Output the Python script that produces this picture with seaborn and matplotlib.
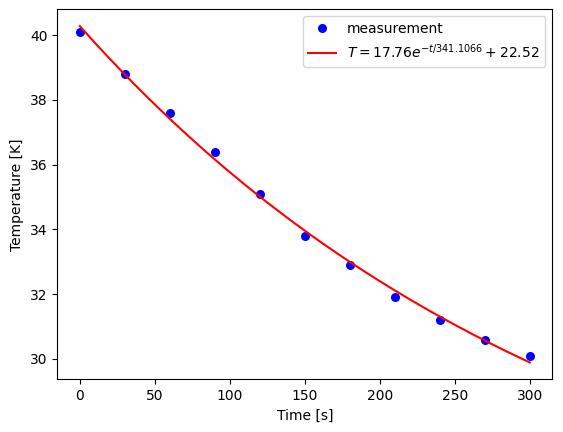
import numpy as np
import pandas as pd
import matplotlib
matplotlib.use("Agg")
import matplotlib.pyplot as plt
import seaborn as sns

time_s = [0, 30, 60, 90, 120, 150, 180, 210, 240, 270, 300]
temperature_k = [40.1, 38.8, 37.6, 36.4, 35.1, 33.8, 32.9, 31.9, 31.2, 30.6, 30.1]

# Fitted model parameters shown in the legend
fit_amp = 17.76
fit_tau = 341.1066
fit_offset = 22.52

meas = pd.DataFrame({"t": time_s, "T": temperature_k})
t_fit = np.linspace(min(time_s), max(time_s), 200)
fit = pd.DataFrame({"t": t_fit, "T": fit_amp * np.exp(-t_fit / fit_tau) + fit_offset})

fig = plt.figure(figsize=(5.63, 4.32), dpi=100)
ax = fig.add_axes([0.1018, 0.122, 0.981 - 0.1018, 0.9785 - 0.122])

sns.lineplot(data=meas, x="t", y="T", ax=ax, color="blue", linestyle="",
             marker="o", markersize=6.5, markeredgewidth=0,
             label="measurement", zorder=2)
sns.lineplot(data=fit, x="t", y="T", ax=ax, color="red", linewidth=1.5,
             label=r"$T = 17.76e^{-t/341.1066} + 22.52$", zorder=3)

ax.set_xlabel("Time [s]")
ax.set_ylabel("Temperature [K]")
ax.legend(loc="upper right")

fig.savefig("out.png", dpi=100)
